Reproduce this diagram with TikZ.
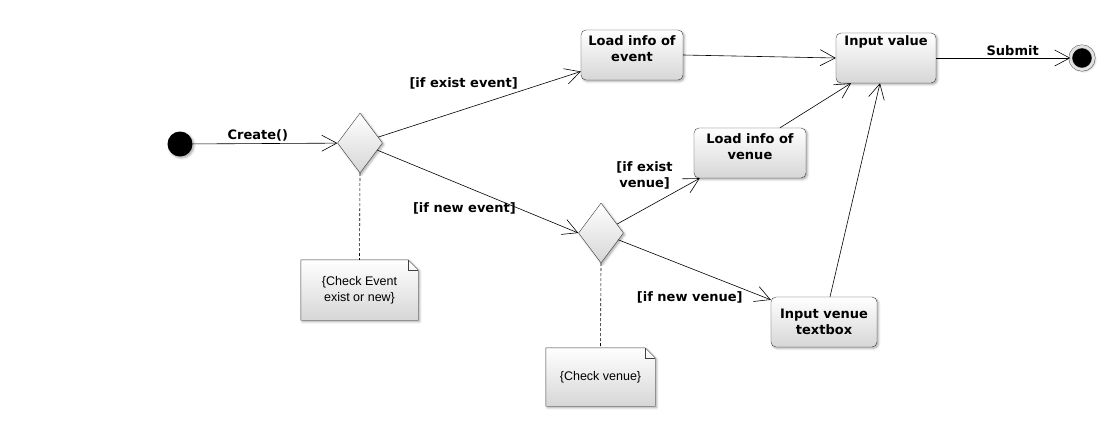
\documentclass[tikz,border=0pt]{standalone}
\usepackage{fontspec}
\setmainfont{DejaVu Sans}
\newfontfamily\notefont{Liberation Sans}
\usetikzlibrary{arrows.meta,shapes.geometric,shadows.blur,backgrounds}
\definecolor{dgray}{rgb}{0.25,0.25,0.25}
\definecolor{lgray}{rgb}{0.84,0.84,0.84}

\begin{document}
\begin{tikzpicture}[x=1pt,y=-1pt,
    every node/.style={font=\fontsize{13}{16}\selectfont\bfseries},
    shade/.style={top color=white,bottom color=lgray},
    shadow/.style={blur shadow={shadow xshift=1.5pt,shadow yshift=-1.5pt,shadow blur steps=4,shadow opacity=35}},
    action/.style={draw=dgray,shade,shadow,rounded corners=5pt,minimum width=#1,minimum height=50pt,align=center,inner sep=3pt},
    decision/.style={diamond,draw=dgray,shade,shadow,minimum width=45pt,minimum height=60pt,aspect=0.75,inner sep=0pt},
    note/.style={minimum width=#1,minimum height=60pt,align=center,inner sep=0pt,font=\notefont\fontsize{12.5}{16}\selectfont},
    flow/.style={black,line width=0.6pt,-{Straight Barb[length=15pt,width=16pt,line width=0.6pt]}},
    link/.style={black,line width=0.6pt,dash pattern=on 3pt off 2pt},
    lbl/.style={inner sep=2pt}
]
\useasboundingbox (0,0) rectangle (1110,421);

% nodes
\node[circle,fill=black,minimum size=25pt,inner sep=0pt,shadow] (start) at (180,144) {};
\node[decision] (dec1) at (360,143) {};
\node[action=102pt,text depth=12pt] (levent) at (632,55) {Load info of\\event};
\node[action=100pt,text depth=34pt] (inval) at (886,58) {Input value};
\node[circle,fill=black,draw=dgray,double=lgray!70,double distance=3pt,minimum size=23pt,inner sep=0pt,shadow] (fin) at (1082,58) {};
\node[action=112pt,text depth=12pt] (lvenue) at (750,153) {Load info of\\venue};
\node[decision] (dec2) at (601,233) {};
\node[action=106pt] (tbox) at (824,322) {Input venue\\textbox};
\node[note=117pt] (nevent) at (359.5,290) {\{Check Event\\exist or new\}};
\node[note=109pt,minimum height=58pt] (nvenue) at (600.5,377) {\{Check venue\}};

% notes
\begin{scope}[on background layer]
\foreach \n in {nevent,nvenue} {
    \draw[dgray,shade,shadow] (\n.north west) -- ([xshift=-10pt]\n.north east) -- ([yshift=-10pt]\n.north east) -- (\n.south east) -- (\n.south west) -- cycle;
    \draw[dgray] ([xshift=-10pt]\n.north east) -- ([xshift=-10pt,yshift=-10pt]\n.north east) -- ([yshift=-10pt]\n.north east);
}
\end{scope}

% flows
\draw[flow] (start) -- node[lbl,pos=0.45,above] {Create()} (dec1);
\draw[flow] (dec1) -- node[lbl,pos=0.7,anchor=south east] {[if exist event]} (levent);
\draw[flow] (dec1) -- node[lbl,pos=0.7,anchor=east] {[if new event]} (dec2.west);
\draw[flow] (dec2) -- node[lbl,pos=0.7,anchor=south east,align=center] {[if exist\\venue]} ([xshift=6pt]lvenue.south west);
\draw[flow] (dec2) -- node[lbl,pos=0.83,anchor=north east] {[if new venue]} ([yshift=-3pt]tbox.north west);
\draw[flow] (levent.east) -- (inval.west);
\draw[flow] ([xshift=30pt]lvenue.north) -- ([xshift=-35pt]inval.south);
\draw[flow] ([xshift=6pt]tbox.north) -- ([xshift=-6pt]inval.south);
\draw[flow] (inval.east) -- node[lbl,pos=0.57,above] {Submit} (fin);
\draw[link] (dec1.south) -- (nevent.north);
\draw[link] (dec2.south) -- (nvenue.north);
\end{tikzpicture}
\end{document}
